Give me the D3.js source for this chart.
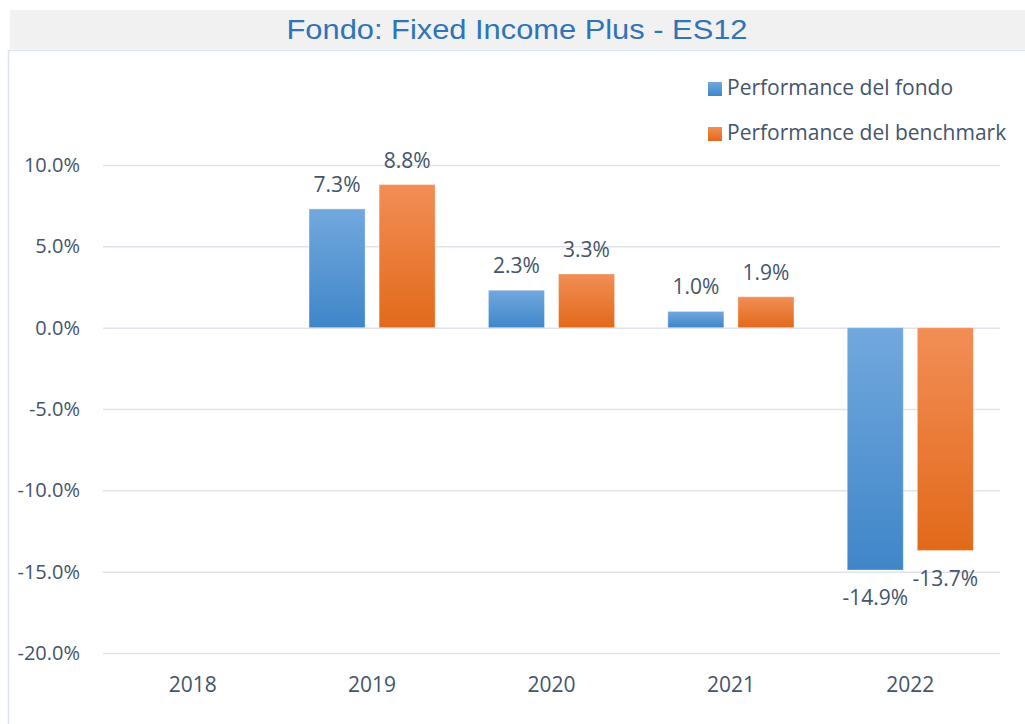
<!DOCTYPE html>
<html><head><meta charset="utf-8">
<script src="https://cdn.jsdelivr.net/npm/d3@7"></script>
<style>
body{margin:0;background:#fff;}
svg{display:block;}
text{font-family:"Open Sans",Lato,sans-serif;}
</style></head>
<body><svg id="c" width="1025" height="724"></svg>
<script>
const title = "Fondo: Fixed Income Plus - ES12";
const categories = ["2018","2019","2020","2021","2022"];
const seriesNames = ["Performance del fondo","Performance del benchmark"];
const fondo = [null, 7.3, 2.3, 1.0, -14.9];
const benchmark = [null, 8.8, 3.3, 1.9, -13.7];
const yTicks = [10, 5, 0, -5, -10, -15, -20];

const svg = d3.select("#c");
const defs = svg.append("defs");
const grads = [["gBlue","#72a8de","#3f86c9"],["gOrange","#f28e56","#e2691a"]];
grads.forEach(([id,a,b])=>{
  const g = defs.append("linearGradient").attr("id",id).attr("x1",0).attr("y1",0).attr("x2",0).attr("y2",1);
  g.append("stop").attr("offset","0%").attr("stop-color",a);
  g.append("stop").attr("offset","100%").attr("stop-color",b);
});

// title band
svg.append("rect").attr("x",10).attr("y",10).attr("width",1015).attr("height",39).attr("fill","#f1f1f1");
svg.append("text").attr("x",517).attr("y",39).attr("text-anchor","middle")
  .attr("font-size",28).attr("fill","#2f74b8")
  .style("font-family","'Liberation Sans',Arial,sans-serif")
  .attr("textLength",461).attr("lengthAdjust","spacingAndGlyphs")
  .text(title);
// chart area border
svg.append("path").attr("d","M8.5,724 V50.5 H1025").attr("fill","none").attr("stroke","#dde3eb").attr("stroke-width",1.5);

const x0 = d3.scaleBand().domain(categories).range([103,1000]).paddingInner(0).paddingOuter(0);
const x1 = d3.scaleBand().domain(seriesNames).range([0, x0.bandwidth()]).paddingInner(0.2).paddingOuter(0.38);
const y = d3.scaleLinear().domain([-20,10]).range([653,165]);

const textCol = "#44546a";
// gridlines
svg.append("g").selectAll("line").data(yTicks).join("line")
  .attr("x1",103).attr("x2",1000).attr("y1",d=>y(d)+0.5).attr("y2",d=>y(d)+0.5)
  .attr("stroke","#dfe4ec").attr("stroke-width",1.5);

// y axis labels
const yAxis = d3.axisLeft(y).tickValues(yTicks).tickSize(0).tickPadding(0).tickFormat(d=>d.toFixed(1)+"%");
const ya = svg.append("g").attr("transform","translate(80,0)").call(yAxis);
ya.select(".domain").remove();
ya.selectAll("text").attr("font-size",20).attr("fill",textCol).attr("font-family","'Open Sans',sans-serif").attr("dy","0.33em");

// x axis labels
const xAxis = d3.axisBottom(x0).tickSize(0).tickPadding(0);
const xa = svg.append("g").attr("transform","translate(0,692)").call(xAxis);
xa.select(".domain").remove();
xa.selectAll("text").attr("font-size",21).attr("fill",textCol).attr("font-family","'Open Sans',sans-serif").attr("y",0).attr("dy","0");

// bars
const data = [];
categories.forEach((c,i)=>{
  [[seriesNames[0],fondo[i],"url(#gBlue)"],[seriesNames[1],benchmark[i],"url(#gOrange)"]].forEach(([s,v,f])=>{
    if(v!==null) data.push({c,s,v,f});
  });
});
svg.append("g").selectAll("rect").data(data).join("rect")
  .attr("x",d=>x0(d.c)+x1(d.s)).attr("width",x1.bandwidth())
  .attr("y",d=>y(Math.max(0,d.v))).attr("height",d=>Math.abs(y(d.v)-y(0)))
  .attr("fill",d=>d.f).attr("stroke","rgba(255,255,255,0.35)").attr("stroke-width",1);

// value labels
svg.append("g").selectAll("text").data(data).join("text")
  .attr("x",d=>x0(d.c)+x1(d.s)+x1.bandwidth()/2)
  .attr("y",d=>d.v>=0 ? y(d.v)-17 : y(d.v)+35)
  .attr("text-anchor","middle").attr("font-size",21).attr("fill",textCol)
  .text(d=>d.v.toFixed(1)+"%");

// legend
const lg = svg.append("g");
seriesNames.forEach((s,i)=>{
  const yy = 82 + i*45;
  lg.append("rect").attr("x",708).attr("y",yy).attr("width",14).attr("height",14).attr("fill",i===0?"url(#gBlue)":"url(#gOrange)");
  lg.append("text").attr("x",727).attr("y",yy+13).attr("font-size",21).attr("fill",textCol).text(s);
});
</script></body></html>
